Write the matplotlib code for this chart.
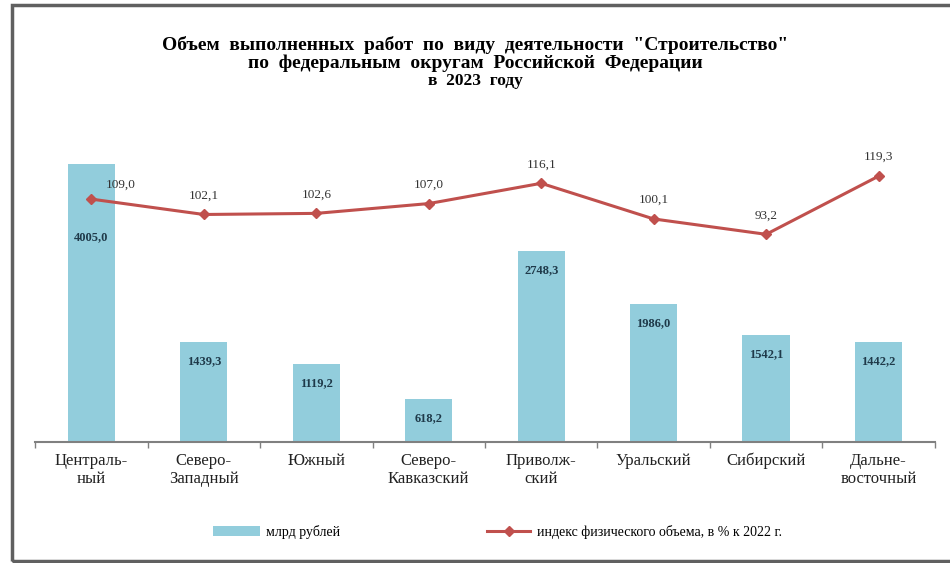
import numpy as np
import matplotlib
matplotlib.use('Agg')
import matplotlib.pyplot as plt
from matplotlib.patches import Rectangle

plt.rcParams['font.family'] = ['Liberation Serif', 'DejaVu Serif']

# данные
okruga = ['Централь-\nный', 'Северо-\nЗападный', 'Южный', 'Северо-\nКавказский',
          'Приволж-\nский', 'Уральский', 'Сибирский', 'Дальне-\nвосточный']
obem = [4005.0, 1439.3, 1119.2, 618.2, 2748.3, 1986.0, 1542.1, 1442.2]
indeks = [109.0, 102.1, 102.6, 107.0, 116.1, 100.1, 93.2, 119.3]

def ru(v):
    return f'{v:.1f}'.replace('.', ',')

fig = plt.figure(figsize=(9.5, 5.63), dpi=100)
ax = fig.add_axes([0.037, 0.215, 0.947, 0.554])
ax2 = ax.twinx()

x = np.arange(len(okruga))
ax.bar(x, obem, width=0.42, color='#92CDDC', label='млрд рублей', zorder=1)
ax.set_xlim(-0.5, len(okruga) - 0.5)
ax.set_ylim(0, 4500)

ax2.plot(x, indeks, color='#C0504D', lw=2.2, marker='D', ms=5,
         markeredgecolor='#C0504D', label='индекс физического объема, в % к 2022 г.', zorder=3)
ax2.set_ylim(0, 140)

# подписи столбцов
for i, v in enumerate(obem):
    if i == 0:
        y = v - 1050
    else:
        y = v - 270
    ax.text(i, y, ru(v), ha='center', va='center', fontsize=9,
            fontweight='bold', color='#1F3A4A')

# подписи линии
for i, v in enumerate(indeks):
    if i == 0:
        ax2.text(i + 0.13, v + 6.5, ru(v), ha='left', va='center', fontsize=9.5, color='#333333')
    else:
        ax2.text(i, v + 8.5, ru(v), ha='center', va='center', fontsize=9.5, color='#333333')

for a in (ax, ax2):
    for s in ['top', 'right', 'left']:
        a.spines[s].set_visible(False)
    a.set_yticks([])
ax2.spines['bottom'].set_visible(False)
ax.spines['bottom'].set_color('#808080')
ax.spines['bottom'].set_linewidth(1.5)

ax.set_xticks(np.arange(len(okruga) + 1) - 0.5, minor=False)
ax.set_xticklabels([''] * (len(okruga) + 1))
ax.tick_params(axis='x', length=4, color='#808080', width=1)
ax.set_xticks(x, minor=True)
# все подписи в две строки, чтобы первая строка стояла на одной линии
labels2 = [s if '\n' in s else s + '\n ' for s in okruga]
ax.set_xticklabels(labels2, minor=True, fontsize=12, color='#222222', linespacing=1.15,
                   va='baseline')
ax.tick_params(axis='x', which='minor', length=0, pad=29.5)

fig.text(0.5, 1 - 45 / 563, 'Объем  выполненных  работ  по  виду  деятельности  "Строительство"',
         ha='center', va='center', fontsize=14, fontweight='bold')
fig.text(0.5, 1 - 63 / 563, 'по  федеральным  округам  Российской  Федерации',
         ha='center', va='center', fontsize=14, fontweight='bold')
fig.text(0.5, 1 - 81 / 563, 'в  2023  году', ha='center', va='center', fontsize=12.5,
         fontweight='bold')

# легенда
h1, l1 = ax.get_legend_handles_labels()
h2, l2 = ax2.get_legend_handles_labels()
fig.legend(h1, l1, loc='center left', bbox_to_anchor=(213 / 950, 0.055), frameon=False,
           fontsize=10, handlelength=3.4, borderpad=0, borderaxespad=0, handletextpad=0.4)
fig.legend(h2, l2, loc='center left', bbox_to_anchor=(487 / 950, 0.055), frameon=False,
           fontsize=10, handlelength=3.1, borderpad=0, borderaxespad=0, handletextpad=0.5)

fig.add_artist(Rectangle((12 / 950, 2 / 563), 1.0, 556 / 563, transform=fig.transFigure,
                         fill=False, edgecolor='#606060', lw=2.5))

fig.savefig('out.png', dpi=100)
